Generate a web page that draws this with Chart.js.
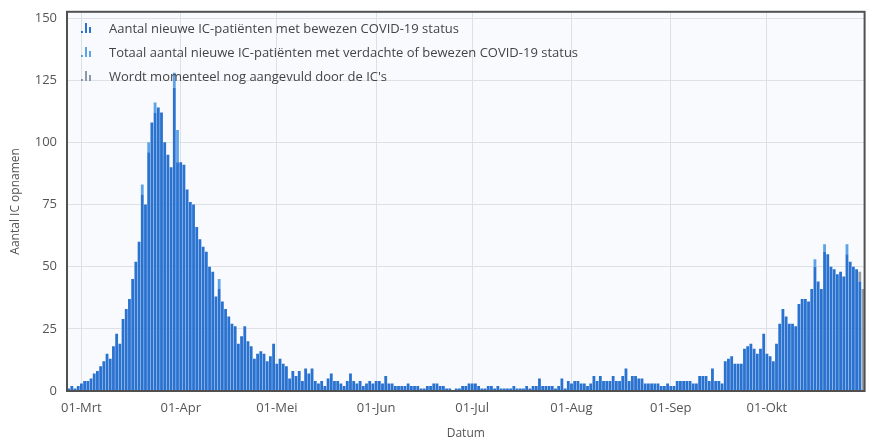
<!DOCTYPE html>
<html>
<head>
<meta charset="utf-8">
<script src="https://cdn.jsdelivr.net/npm/chart.js@4/dist/chart.umd.min.js"></script>
<style>
    html, body { margin: 0; padding: 0; background: #fff; }
    .wrap { position: relative; width: 872px; height: 441px; overflow: hidden; }
    #icChart { position: absolute; left: 0; top: -6px; }
    .legend { position: absolute; left: 80px; top: 17px; font-family: 'Open Sans', sans-serif; font-size: 13px; color: #444; }
    .legend-row { height: 24px; line-height: 22px; white-space: nowrap; }
    .legend-icon { display: inline-block; width: 14px; height: 11px; margin-right: 15px; position: relative; top: 0px; }
    .legend-icon span { position: absolute; bottom: 0; width: 2px; }
</style>
</head>
<body>
<div class="wrap">
    <canvas id="icChart" width="872" height="447"></canvas>
    <div class="legend" id="icLegend"></div>
</div>
<script>
// daily new IC admissions, 26-Feb .. 31-Okt
const bewezenFeb = [1, 2, 1, 2];
const bewezenMrt = [3, 4, 4, 5, 7, 8, 10, 12, 15, 13, 18, 23, 19, 29, 33, 37, 45, 52, 60, 79, 75, 96, 108, 112, 114, 112, 100, 95, 90, 122, 92];
const bewezenApr = [92, 91, 81, 76, 75, 66, 61, 58, 56, 50, 48, 38, 41, 36, 33, 30, 27, 26, 19, 22, 26, 20, 18, 13, 15, 16, 15, 12, 14, 19];
const bewezenMei = [11, 13, 11, 10, 5, 8, 6, 8, 4, 9, 7, 9, 4, 3, 4, 2, 5, 7, 4, 4, 3, 2, 4, 7, 4, 3, 4, 2, 3, 4, 3];
const bewezenJun = [4, 4, 3, 6, 3, 3, 2, 2, 2, 2, 3, 2, 2, 2, 1, 1, 2, 2, 3, 3, 2, 2, 1, 1, 0, 1, 1, 2, 2, 3];
const bewezenJul = [3, 3, 2, 1, 1, 2, 2, 1, 2, 1, 1, 1, 1, 2, 1, 1, 1, 2, 1, 2, 2, 5, 2, 2, 2, 2, 1, 2, 5, 1, 4];
const bewezenAug = [3, 4, 4, 3, 3, 2, 3, 6, 4, 6, 4, 4, 4, 6, 4, 4, 6, 9, 4, 6, 6, 5, 5, 3, 3, 3, 3, 3, 2, 2, 3];
const bewezenSep = [2, 2, 4, 4, 4, 4, 4, 3, 3, 6, 6, 6, 4, 9, 4, 4, 3, 12, 13, 14, 11, 11, 11, 17, 18, 19, 17, 15, 17, 23];
const bewezenOkt = [15, 14, 12, 19, 27, 33, 30, 27, 27, 26, 35, 37, 37, 36, 41, 50, 44, 41, 56, 55, 50, 49, 47, 48, 46, 55, 52, 50, 49, 44, 0];

// light blue part: suspected patients on top of the proven ones
const verdacht = [
    { x: '20-Mrt', y: 4 }, { x: '22-Mrt', y: 4 }, { x: '24-Mrt', y: 4 },
    { x: '30-Mrt', y: 6 }, { x: '31-Mrt', y: 13 }, { x: '13-Apr', y: 4 },
    { x: '16-Okt', y: 3 }, { x: '19-Okt', y: 3 }, { x: '26-Okt', y: 4 }
];
// grey part: still being filled in by the ICs
const aangevuld = [{ x: '30-Okt', y: 4 }, { x: '31-Okt', y: 41 }];

const maanden = [
    { naam: 'Feb', eersteDag: 26, waarden: bewezenFeb },
    { naam: 'Mrt', eersteDag: 1, waarden: bewezenMrt },
    { naam: 'Apr', eersteDag: 1, waarden: bewezenApr },
    { naam: 'Mei', eersteDag: 1, waarden: bewezenMei },
    { naam: 'Jun', eersteDag: 1, waarden: bewezenJun },
    { naam: 'Jul', eersteDag: 1, waarden: bewezenJul },
    { naam: 'Aug', eersteDag: 1, waarden: bewezenAug },
    { naam: 'Sep', eersteDag: 1, waarden: bewezenSep },
    { naam: 'Okt', eersteDag: 1, waarden: bewezenOkt }
];
const yTicks = [0, 25, 50, 75, 100, 125, 150];

const labels = [];
const bewezen = [];
maanden.forEach(m => {
    m.waarden.forEach((v, i) => {
        const dag = String(m.eersteDag + i).padStart(2, '0');
        labels.push(dag + '-' + m.naam);
        bewezen.push(v);
    });
});

const legendItems = [
    { text: 'Aantal nieuwe IC-patiënten met bewezen COVID-19 status', color: '#2a72cf' },
    { text: 'Totaal aantal nieuwe IC-patiënten met verdachte of bewezen COVID-19 status', color: '#5ea3e6' },
    { text: "Wordt momenteel nog aangevuld door de IC's", color: '#8d99a8' }
];

document.getElementById('icLegend').innerHTML = legendItems.map(item => `
    <div class="legend-row">
        <span class="legend-icon">
            <span style="left:1px;height:2px;background:${item.color}"></span>
            <span style="left:5px;height:10px;background:${item.color}"></span>
            <span style="left:9px;height:6px;background:${item.color}"></span>
        </span>${item.text}
    </div>
`).join('');

const tickFont = { family: "'Open Sans', sans-serif", size: 13 };

// plot background + dark frame round the plot area
const framePlugin = {
    id: 'frame',
    beforeDraw(chart) {
        const a = chart.chartArea;
        const c = chart.ctx;
        c.save();
        c.fillStyle = '#f8fafd';
        c.fillRect(a.left, a.top, a.right - a.left, a.bottom - a.top);
        c.restore();
    },
    afterDraw(chart) {
        const a = chart.chartArea;
        const c = chart.ctx;
        c.save();
        c.strokeStyle = '#505050';
        c.lineWidth = 2;
        c.strokeRect(a.left, a.top, a.right - a.left, a.bottom - a.top);
        c.restore();
    }
};

const isMonthStart = i => labels[i] && labels[i].startsWith('01-');

new Chart(document.getElementById('icChart'), {
    type: 'bar',
    data: {
        labels: labels,
        datasets: [
            { label: 'bewezen', data: bewezen, backgroundColor: '#2a72cf', stack: 's' },
            { label: 'verdacht', data: verdacht, backgroundColor: '#5ea3e6', stack: 's' },
            { label: 'aangevuld', data: aangevuld, backgroundColor: '#9aa0a8', stack: 's' }
        ]
    },
    options: {
        responsive: false,
        animation: false,
        layout: { padding: { top: 0, right: 2, left: 0, bottom: 0 } },
        datasets: { bar: { categoryPercentage: 1, barPercentage: 0.88 } },
        plugins: {
            legend: { display: false },
            tooltip: { enabled: false }
        },
        scales: {
            x: {
                stacked: true,
                grid: {
                    offset: false,
                    color: ctx => isMonthStart(ctx.index) ? '#dde1e6' : 'rgba(0,0,0,0)',
                    drawTicks: false
                },
                border: { display: false },
                ticks: {
                    autoSkip: false,
                    maxRotation: 0,
                    padding: 9,
                    color: '#555',
                    font: tickFont,
                    callback: function(value, index) {
                        return isMonthStart(index) ? labels[index] : '';
                    }
                },
                title: {
                    display: true,
                    text: 'Datum',
                    color: '#555',
                    font: { family: "'Open Sans', sans-serif", size: 12 },
                    padding: { top: 0, bottom: 0 }
                },
                afterFit: scale => { scale.height = 50; }
            },
            y: {
                stacked: true,
                min: 0,
                max: 152.5,
                ticks: {
                    stepSize: 25,
                    padding: 10,
                    color: '#555',
                    font: tickFont
                },
                afterBuildTicks: scale => {
                    scale.ticks = yTicks.map(v => ({ value: v }));
                },
                grid: { color: '#dde1e6', drawTicks: false },
                border: { display: false },
                title: {
                    display: true,
                    text: 'Aantal IC opnamen',
                    color: '#555',
                    font: { family: "'Open Sans', sans-serif", size: 12 },
                    padding: { top: 8, bottom: 4 }
                },
                afterFit: scale => { scale.width = 67; }
            }
        }
    },
    plugins: [framePlugin]
});
</script>
</body>
</html>
